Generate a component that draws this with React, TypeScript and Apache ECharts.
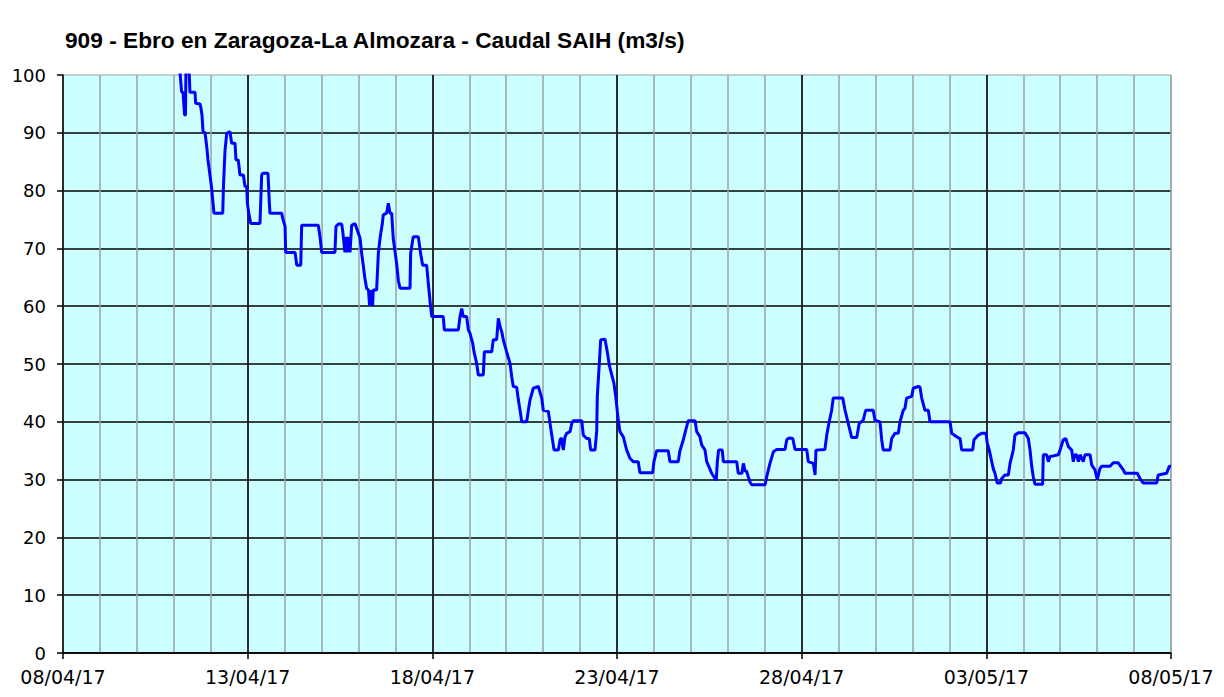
import React, { useEffect, useRef } from "react";
import * as echarts from "echarts";

// Hours elapsed since 08/04/17 00:00
const hours = [
  73.4, 76.0, 77.1, 78.0, 79.0, 79.6, 79.9, 81.9, 82.5, 85.8, 86.2, 89.0, 89.5, 90.3, 91.0, 92.3, 93.4, 94.2, 95.5, 96.6,
  97.5, 98.1, 103.8, 104.3, 105.3, 106.4, 108.5, 109.6, 111.8, 112.4, 113.9, 115.0, 117.2, 118.3, 119.4, 119.8, 120.9, 122.0, 128.0, 129.1,
  130.0, 133.2, 134.1, 134.5, 142.1, 142.8, 144.3, 144.7, 150.8, 151.9, 154.5, 155.1, 165.9, 167.0, 168.1, 176.7, 177.4, 178.9, 181.1, 181.9,
  183.2, 184.2, 184.9, 185.8, 186.5, 187.6, 189.7, 190.8, 193.0, 194.1, 195.1, 196.2, 197.3, 198.5, 199.2, 199.8, 200.5, 201.2, 201.6, 203.8,
  204.9, 206.0, 207.5, 208.1, 210.3, 211.4, 212.5, 213.6, 214.6, 216.8, 217.9, 219.0, 225.5, 225.9, 227.6, 230.9, 232.4, 233.7, 236.3, 237.8,
  238.9, 239.6, 247.1, 247.8, 256.9, 258.0, 259.1, 260.1, 262.3, 263.4, 264.5, 266.2, 267.1, 268.8, 269.9, 273.1, 273.8, 278.6, 279.6, 281.8,
  282.9, 284.0, 285.1, 286.1, 288.3, 290.5, 291.6, 292.6, 294.8, 295.9, 297.0, 298.1, 301.3, 302.4, 303.5, 305.6, 308.9, 311.1, 312.1, 315.4,
  316.5, 317.6, 319.1, 321.9, 323.0, 323.9, 325.1, 326.2, 327.3, 329.5, 330.6, 331.6, 337.1, 338.1, 340.3, 342.0, 342.9, 345.7, 346.8, 347.2,
  348.5, 349.4, 352.2, 353.7, 355.0, 356.6, 358.0, 359.3, 360.8, 361.9, 364.1, 366.3, 368.4, 370.6, 373.8, 374.9, 383.2, 384.0, 385.8, 393.3,
  394.4, 399.8, 400.9, 403.1, 405.3, 406.3, 410.7, 411.8, 413.9, 415.0, 417.2, 418.3, 420.4, 421.5, 423.7, 424.5, 425.2, 426.0, 428.4, 429.1,
  437.8, 438.8, 441.2, 442.1, 443.2, 444.3, 445.3, 446.4, 447.5, 456.2, 457.3, 459.4, 461.6, 463.8, 469.2, 470.3, 471.9, 474.2, 475.7, 483.3,
  484.3, 487.6, 488.7, 489.3, 495.1, 496.3, 497.9, 499.5, 500.5, 506.7, 508.2, 510.3, 512.5, 515.8, 517.4, 520.0, 521.6, 526.5, 527.6, 530.9,
  532.0, 533.0, 537.4, 538.5, 540.6, 542.8, 543.9, 546.0, 547.1, 548.2, 551.5, 552.5, 555.8, 556.9, 558.0, 560.1, 562.3, 563.4, 576.4, 577.5,
  580.7, 582.9, 584.0, 591.1, 592.0, 594.8, 597.0, 599.8, 600.6, 601.9, 603.5, 604.5, 605.6, 607.1, 609.2, 610.0, 612.1, 614.3, 615.4, 617.5,
  618.6, 620.8, 625.1, 627.3, 628.4, 629.5, 630.5, 631.6, 636.6, 637.0, 639.2, 640.3, 641.4, 643.5, 646.8, 647.9, 650.0, 651.6, 653.3, 655.5,
  656.5, 657.6, 658.7, 659.8, 660.9, 663.0, 664.1, 667.4, 668.5, 670.6, 672.1, 673.8, 674.9, 680.4, 682.5, 685.7, 689.0, 690.1, 698.1, 699.8,
  702.0, 710.7, 711.7, 717.2, 718.9, 720.0,
];

// Caudal (m3/s)
const flow = [
  104, 100.5, 97.1, 97, 93.1, 93.1, 101, 101, 97, 97, 95.1, 95, 94.5, 93.1, 90.2, 90, 87.6, 85.3, 82.7, 80.4,
  77.8, 76.1, 76.1, 81, 87, 89.9, 90.2, 88.2, 88.2, 85.3, 85.3, 82.7, 82.7, 80.7, 80.7, 77.8, 75.8, 74.3, 74.3, 82.7,
  83, 83, 77.8, 76.1, 76.1, 75.2, 73.8, 69.3, 69.3, 67.1, 67.1, 74, 74, 72, 69.3, 69.3, 73.8, 74.2, 74.2, 72.7,
  69.3, 72, 69.3, 72, 69.3, 74, 74.3, 73.5, 71.8, 69.1, 67.1, 64.8, 63.1, 62.8, 60.2, 62.8, 60.2, 60.2, 62.8, 62.8,
  69.1, 71.7, 74.3, 75.8, 76.1, 77.8, 76.1, 76.1, 71.7, 67.4, 64.5, 63.1, 63.1, 69.1, 72, 72, 69.1, 67.1, 67.1, 62.8,
  59.9, 58.2, 58.2, 55.9, 55.9, 58.2, 59.6, 58.2, 58.2, 55.9, 55.3, 53.6, 52.1, 50.1, 48.1, 48.1, 52.1, 52.1, 54.2, 54.2,
  57.9, 56.5, 55.6, 54.2, 52.1, 50.1, 47.8, 46.1, 46, 43.8, 42, 40, 40, 42, 43.8, 45.8, 46.1, 44.1, 42, 41.8,
  39.7, 37.7, 35.1, 35.1, 36.9, 37.2, 35.1, 37.4, 38, 38.3, 39.7, 40.2, 40.2, 37.7, 37.1, 37.1, 35.1, 35.1, 38.3, 44.4,
  50.1, 54.2, 54.3, 52.1, 49.8, 48.1, 46.7, 44.1, 40.3, 38.3, 37.4, 35.1, 33.7, 33.1, 33.1, 31.2, 31.2, 33.1, 35, 35,
  33.1, 33.1, 35, 36.9, 39.2, 40.2, 40.2, 38.3, 37.4, 36, 35.1, 33.1, 31.8, 31.1, 30.2, 29.9, 33.1, 35.1, 35.1, 33.1,
  33.1, 31.1, 31.1, 32.8, 31.5, 31.4, 30.5, 29.6, 29.1, 29.1, 30.5, 32.8, 34.8, 35.2, 35.2, 36.9, 37.2, 37.1, 35.2, 35.2,
  33.1, 32.8, 30.8, 35.1, 35.2, 37.7, 40, 42, 44.1, 44.1, 42, 39.7, 37.3, 37.3, 39.7, 40.3, 42, 42, 40.3, 40,
  36.9, 35.1, 35.1, 37.1, 38, 38, 40, 42, 42.3, 44.1, 44.4, 45.8, 46.1, 46, 44.1, 42, 42, 40, 40, 38,
  37.4, 37.1, 35.1, 35.1, 36.9, 37.7, 38, 38, 36.3, 35.1, 33.1, 31.9, 31.1, 29.4, 29.4, 30.2, 30.8, 30.8, 32.8, 35.1,
  37.7, 38.1, 38.1, 37.1, 35.1, 32.3, 30.5, 29.2, 29.2, 34.3, 34.3, 33.1, 34, 34.1, 34.3, 35.1, 36.9, 37.1, 35.7, 35.1,
  33.1, 34.3, 34.3, 33.1, 34.3, 33.1, 34.3, 34.3, 32.5, 31.7, 30, 31.9, 32.3, 32.3, 32.9, 32.9, 31.7, 31.1, 31.1, 30.2,
  29.4, 29.4, 30.8, 31.1, 32.3, 32.3,
];

const xTickLabels = ["08/04/17", "13/04/17", "18/04/17", "23/04/17", "28/04/17", "03/05/17", "08/05/17"];
const titleText = "909 - Ebro en Zaragoza-La Almozara - Caudal SAIH (m3/s)";

export default function App() {
  const ref = useRef<HTMLDivElement>(null);
  useEffect(() => {
    if (!ref.current) return;
    const chart = echarts.init(ref.current, undefined, { renderer: "svg" });
    const data = hours.map((h, i) => [h, flow[i]]);
    chart.setOption({
      animation: false,
      backgroundColor: "#ffffff",
      title: {
        text: titleText,
        left: 65,
        top: 28,
        padding: 0,
        textStyle: { fontFamily: "Liberation Sans", fontWeight: "bold", fontSize: 22.7, color: "#000" },
      },
      grid: {
        left: 63,
        top: 75,
        right: 53,
        bottom: 44,
        show: true,
        backgroundColor: "#ccffff",
        borderColor: "#a0a0a0",
        borderWidth: 1,
      },
      xAxis: [
        {
          type: "value",
          min: 0,
          max: 720,
          interval: 24,
          position: "bottom",
          axisLine: { show: false },
          axisTick: { show: false },
          axisLabel: { show: false },
          splitLine: { show: true, lineStyle: { color: "#a0a0a0", width: 1.5 } },
        },
        {
          type: "value",
          min: 0,
          max: 720,
          interval: 120,
          position: "bottom",
          axisLine: { show: true, onZero: false, lineStyle: { color: "#000", width: 1.5 } },
          axisTick: { show: true, length: 6, lineStyle: { color: "#000", width: 1.5 } },
          axisLabel: {
            fontFamily: "DejaVu Sans",
            fontSize: 19,
            color: "#000",
            margin: 14,
            formatter: (v: number) => xTickLabels[Math.round(v / 120)] ?? "",
          },
          splitLine: { show: true, showMinLine: false, showMaxLine: false, lineStyle: { color: "#000", width: 1.5 } },
        },
      ],
      yAxis: {
        type: "value",
        min: 0,
        max: 100,
        interval: 10,
        axisLine: { show: true, onZero: false, lineStyle: { color: "#000", width: 1.5 } },
        axisTick: { show: true, length: 6, lineStyle: { color: "#000", width: 1.5 } },
        axisLabel: { fontFamily: "DejaVu Sans", fontSize: 18, color: "#000", margin: 17 },
        splitLine: { show: true, showMaxLine: false, lineStyle: { color: "#000", width: 1.5 } },
      },
      series: [
        {
          type: "line",
          xAxisIndex: 1,
          data,
          showSymbol: false,
          symbol: "none",
          clip: true,
          lineStyle: { color: "#0000ff", width: 3 },
          z: 5,
        },
      ],
    });
    return () => chart.dispose();
  }, []);
  return <div ref={ref} style={{ position: "fixed", left: 0, top: 0, width: 1224, height: 697 }} />;
}
